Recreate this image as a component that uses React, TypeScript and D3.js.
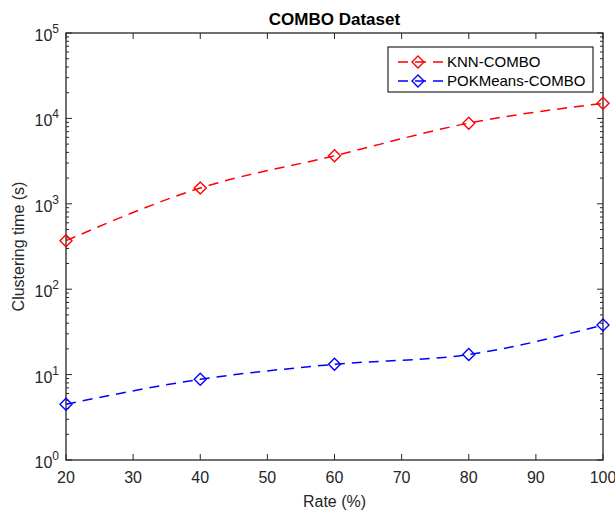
import { useEffect, useRef } from 'react';
import * as d3 from 'd3';

const width = 615;
const height = 516;
const [mt, mr, mb, ml] = [33, 12, 56, 66];
const graphWidth = width - ml - mr;
const graphHeight = height - mt - mb;

const rates = [20, 40, 60, 80, 100];
const knnTimes = [370, 1530, 3650, 8800, 15000];
const pokTimes = [4.5, 8.8, 13.2, 17.2, 38];
const xTicks = [20, 30, 40, 50, 60, 70, 80, 90, 100];
const yExponents = [0, 1, 2, 3, 4, 5];

const series = [
    { name: 'KNN-COMBO', color: '#ff0000', values: knnTimes },
    { name: 'POKMeans-COMBO', color: '#0000ff', values: pokTimes }
];

export default function App() {
    const chartRef = useRef<HTMLDivElement>(null);

    useEffect(() => {
        const root = d3.select(chartRef.current);
        root.selectAll('*').remove();

        const svg = root
            .append('svg')
            .attr('width', width)
            .attr('height', height)
            .attr('font-family', '"Liberation Sans", Arial, sans-serif')
            .style('display', 'block')
            .style('background', '#fff');

        const graph = svg.append('g').attr('transform', `translate(${ml}, ${mt})`);

        const xScale = d3.scaleLinear().domain([20, 100]).range([0, graphWidth]);
        const yScale = d3.scaleLog().domain([1, 1e5]).range([graphHeight, 0]);

        // 작은 눈금 (log minor ticks)
        const minor: number[] = [];
        for (let e = 0; e < 5; e++) {
            for (let k = 2; k <= 9; k++) minor.push(k * Math.pow(10, e));
        }

        const tickG = graph.append('g').attr('stroke', '#262626').attr('stroke-width', 1);
        xTicks.forEach((t) => {
            tickG.append('line').attr('x1', xScale(t)).attr('x2', xScale(t)).attr('y1', graphHeight).attr('y2', graphHeight - 6);
            tickG.append('line').attr('x1', xScale(t)).attr('x2', xScale(t)).attr('y1', 0).attr('y2', 6);
        });
        yExponents.forEach((e) => {
            const y = yScale(Math.pow(10, e));
            tickG.append('line').attr('x1', 0).attr('x2', 6).attr('y1', y).attr('y2', y);
            tickG.append('line').attr('x1', graphWidth).attr('x2', graphWidth - 6).attr('y1', y).attr('y2', y);
        });
        minor.forEach((v) => {
            const y = yScale(v);
            tickG.append('line').attr('x1', 0).attr('x2', 3).attr('y1', y).attr('y2', y);
            tickG.append('line').attr('x1', graphWidth).attr('x2', graphWidth - 3).attr('y1', y).attr('y2', y);
        });

        // 테두리
        graph
            .append('rect')
            .attr('width', graphWidth)
            .attr('height', graphHeight)
            .attr('fill', 'none')
            .attr('stroke', '#262626')
            .attr('stroke-width', 1.3);

        // x축 라벨
        graph
            .append('g')
            .selectAll('text')
            .data(xTicks)
            .join('text')
            .attr('x', (d) => xScale(d))
            .attr('y', graphHeight + 23)
            .attr('text-anchor', 'middle')
            .attr('font-size', 16)
            .attr('fill', '#262626')
            .text((d) => d);

        // y축 라벨 10^n
        const yl = graph
            .append('g')
            .selectAll('text')
            .data(yExponents)
            .join('text')
            .attr('x', -7)
            .attr('y', (d) => yScale(Math.pow(10, d)) + 8)
            .attr('text-anchor', 'end')
            .attr('font-size', 16)
            .attr('fill', '#262626');
        yl.append('tspan').text('10');
        yl.append('tspan').attr('dy', -8).attr('font-size', 12).text((d) => d);

        svg.append('text')
            .attr('x', ml + graphWidth / 2)
            .attr('y', 25)
            .attr('text-anchor', 'middle')
            .attr('font-size', 17)
            .attr('font-weight', 'bold')
            .attr('fill', '#000')
            .text('COMBO Dataset');

        svg.append('text')
            .attr('x', ml + graphWidth / 2)
            .attr('y', 507)
            .attr('text-anchor', 'middle')
            .attr('font-size', 16)
            .attr('fill', '#262626')
            .text('Rate (%)');

        svg.append('text')
            .attr('transform', `translate(24, ${mt + graphHeight / 2}) rotate(-90)`)
            .attr('text-anchor', 'middle')
            .attr('font-size', 16)
            .attr('fill', '#262626')
            .text('Clustering time (s)');

        const line = d3
            .line<number>()
            .x((_d, i) => xScale(rates[i]))
            .y((d) => yScale(d))
            .curve(d3.curveMonotoneX);

        const diamond = (cx: number, cy: number) => `M${cx},${cy - 6}L${cx + 6},${cy}L${cx},${cy + 6}L${cx - 6},${cy}Z`;

        series.forEach((s) => {
            graph
                .append('path')
                .attr('d', line(s.values))
                .attr('fill', 'none')
                .attr('stroke', s.color)
                .attr('stroke-width', 1.5)
                .attr('stroke-dasharray', '10,7');
            graph
                .append('g')
                .selectAll('path')
                .data(s.values)
                .join('path')
                .attr('d', (d, i) => diamond(xScale(rates[i]), yScale(d)))
                .attr('fill', 'none')
                .attr('stroke', s.color)
                .attr('stroke-width', 1.4);
        });

        // 범례
        const legend = svg.append('g').attr('transform', 'translate(388, 47)');
        legend
            .append('rect')
            .attr('width', 205)
            .attr('height', 45)
            .attr('fill', '#fff')
            .attr('stroke', '#262626')
            .attr('stroke-width', 1.2);
        series.forEach((s, i) => {
            const y = 15 + i * 19;
            legend
                .append('line')
                .attr('x1', 10)
                .attr('x2', 55)
                .attr('y1', y)
                .attr('y2', y)
                .attr('stroke', s.color)
                .attr('stroke-width', 1.5)
                .attr('stroke-dasharray', '10,7,11,7,10');
            legend.append('path').attr('d', diamond(30, y)).attr('fill', 'none').attr('stroke', s.color).attr('stroke-width', 1.4);
            legend
                .append('text')
                .attr('x', 59)
                .attr('y', y + 5)
                .attr('font-size', 15)
                .attr('fill', '#000')
                .text(s.name);
        });
    }, []);

    return <div ref={chartRef} style={{ position: 'absolute', left: 0, top: 0 }} />;
}
